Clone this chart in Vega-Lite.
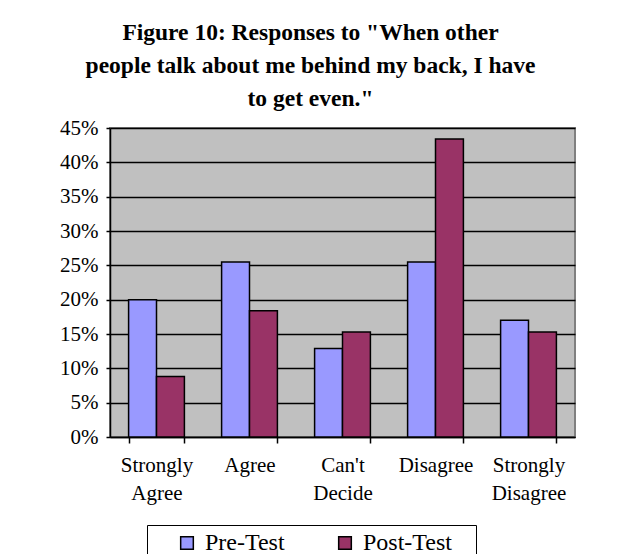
{
  "$schema": "https://vega.github.io/schema/vega-lite/v6.json",
  "width": 465,
  "height": 309,
  "autosize": "none",
  "padding": {"left": 110, "top": 128, "right": 46, "bottom": 117},
  "background": "white",
  "title": {
    "text": ["Figure 10: Responses to \"When other", "people talk about me behind my back, I have", "to get even.\""],
    "font": "Liberation Serif",
    "fontSize": 23.5,
    "fontWeight": "bold",
    "color": "black",
    "lineHeight": 33,
    "anchor": "middle",
    "frame": "group",
    "offset": 7,
    "dx": -32
  },
  "data": {
    "values": [
      {"response": "Strongly Agree", "test": "Pre-Test", "pct": 0.20},
      {"response": "Strongly Agree", "test": "Post-Test", "pct": 0.088},
      {"response": "Agree", "test": "Pre-Test", "pct": 0.255},
      {"response": "Agree", "test": "Post-Test", "pct": 0.184},
      {"response": "Can't Decide", "test": "Pre-Test", "pct": 0.129},
      {"response": "Can't Decide", "test": "Post-Test", "pct": 0.153},
      {"response": "Disagree", "test": "Pre-Test", "pct": 0.255},
      {"response": "Disagree", "test": "Post-Test", "pct": 0.434},
      {"response": "Strongly Disagree", "test": "Pre-Test", "pct": 0.170},
      {"response": "Strongly Disagree", "test": "Post-Test", "pct": 0.153}
    ]
  },
  "mark": {"type": "bar", "stroke": "black", "strokeWidth": 1.5},
  "encoding": {
    "x": {
      "field": "response",
      "type": "nominal",
      "sort": ["Strongly Agree", "Agree", "Can't Decide", "Disagree", "Strongly Disagree"],
      "scale": {"paddingInner": 0.4, "paddingOuter": 0.2},
      "axis": {
        "title": null,
        "labelAngle": 0,
        "tickBand": "extent",
        "labelPadding": 11,
        "labelLineHeight": 28,
        "labelBaseline": "top",
        "labelExpr": "datum.label == 'Strongly Agree' ? ['Strongly', 'Agree'] : datum.label == \"Can't Decide\" ? [\"Can't\", 'Decide'] : datum.label == 'Strongly Disagree' ? ['Strongly', 'Disagree'] : datum.label"
      }
    },
    "xOffset": {
      "field": "test",
      "type": "nominal",
      "sort": ["Pre-Test", "Post-Test"],
      "scale": {"paddingInner": 0, "paddingOuter": 0}
    },
    "y": {
      "field": "pct",
      "type": "quantitative",
      "scale": {"domain": [0, 0.45], "nice": false},
      "axis": {
        "title": null,
        "format": ".0%",
        "values": [0, 0.05, 0.1, 0.15, 0.2, 0.25, 0.3, 0.35, 0.4, 0.45],
        "grid": true,
        "gridColor": "black",
        "gridWidth": 1.5,
        "gridOpacity": 1,
        "tickSize": 4,
        "labelPadding": 8
      }
    },
    "color": {
      "field": "test",
      "type": "nominal",
      "sort": ["Pre-Test", "Post-Test"],
      "scale": {"domain": ["Pre-Test", "Post-Test"], "range": ["#9999FF", "#993366"]},
      "legend": {
        "title": null,
        "orient": "none",
        "legendX": 37,
        "legendY": 397,
        "direction": "horizontal",
        "strokeColor": "black",
        "padding": 6,
        "symbolType": "square",
        "symbolSize": 160,
        "symbolOffset": 22,
        "symbolStrokeColor": "black",
        "symbolStrokeWidth": 1.5,
        "labelFont": "Liberation Serif",
        "labelFontSize": 24,
        "labelColor": "black",
        "columnPadding": 26,
        "labelOffset": 6,
        "labelExpr": "datum.label == 'Post-Test' ? 'Post-Test\u2800' : datum.label"
      }
    }
  },
  "config": {
    "view": {"fill": "#C0C0C0", "stroke": "#808080", "strokeWidth": 2},
    "axis": {
      "labelFont": "Liberation Serif",
      "labelFontSize": 21,
      "labelColor": "black",
      "domainColor": "black",
      "domainWidth": 1.5,
      "tickColor": "black",
      "tickWidth": 1.5,
      "tickSize": 6
    }
  }
}
